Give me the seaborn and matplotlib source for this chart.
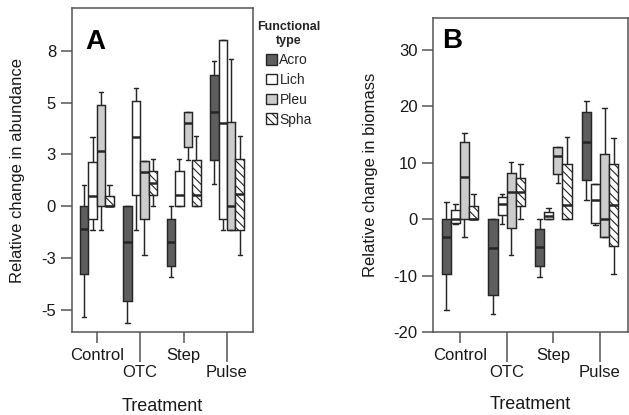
import numpy as np
import pandas as pd
import matplotlib
matplotlib.use('Agg')
import matplotlib.pyplot as plt
from matplotlib.patches import Patch
import seaborn as sns

# five-number summaries, rows = treatment, cols = functional type
treatments = ['Control', 'OTC', 'Step', 'Pulse']
types = ['Acro', 'Lich', 'Pleu', 'Spha']

# A: relative change in abundance
abund_low = [[-5.35, -1.16, -1.16, 0.0],
             [-5.64, -1.16, -2.37, 0.0],
             [-3.44, 0.0, 2.22, 0.0],
             [1.09, -1.16, -1.16, -2.37]]
abund_q1 = [[-3.29, -0.6, 0.0, 0.0],
            [-4.59, 0.53, -0.6, 0.53],
            [-2.88, 0.0, 2.87, 0.0],
            [2.25, -0.6, -1.16, -1.16]]
abund_med = [[-1.1, 0.48, 2.66, 0.0],
             [-1.75, 3.32, 1.66, 1.11],
             [-1.75, 0.53, 4.03, 0.53],
             [4.54, 4.0, 0.0, 0.58]]
abund_q3 = [[0.0, 2.13, 4.9, 0.48],
            [0.0, 5.07, 2.19, 1.69],
            [-0.63, 1.69, 4.56, 2.25],
            [6.36, 8.02, 4.07, 2.27]]
abund_high = [[1.0, 3.32, 5.5, 1.0],
              [0.0, 5.72, 2.19, 2.29],
              [0.0, 2.29, 4.56, 3.4],
              [7.0, 8.02, 7.12, 3.4]]

# B: relative change in biomass
bio_low = [[-16.1, -0.9, -3.2, 0.0],
           [-16.8, -0.9, -6.4, 0.0],
           [-10.2, 0.0, 6.4, 0.0],
           [3.4, -1.1, -3.2, -9.7]]
bio_q1 = [[-9.8, -0.7, 0.0, 0.0],
          [-13.5, 0.65, -1.5, 2.25],
          [-8.3, 0.0, 8.0, 0.0],
          [6.9, -0.7, -3.2, -4.8]]
bio_med = [[-3.2, 0.1, 7.5, 0.0],
           [-5.1, 2.7, 4.8, 4.8],
           [-5.0, 0.5, 11.2, 2.5],
           [13.7, 3.3, 0.0, 2.5]]
bio_q3 = [[0.0, 1.66, 13.7, 2.3],
          [0.0, 3.9, 8.2, 7.3],
          [-1.8, 1.3, 12.8, 9.7],
          [19.0, 6.3, 11.6, 9.7]]
bio_high = [[3.1, 2.6, 15.3, 4.5],
            [0.0, 4.5, 10.2, 9.8],
            [0.0, 1.9, 12.8, 14.5],
            [20.9, 6.3, 19.75, 14.4]]

colors = {'Acro': '#5e5e5e', 'Lich': '#ffffff', 'Pleu': '#cccccc', 'Spha': '#ffffff'}
edge = '#262626'
spine_col = '#555555'


def long_table(low, q1, med, q3, high):
    rows = []
    for i, tr in enumerate(treatments):
        for j, ty in enumerate(types):
            for v in (low[i][j], q1[i][j], med[i][j], q3[i][j], high[i][j]):
                rows.append((tr, ty, v))
    return pd.DataFrame(rows, columns=['Treatment', 'Type', 'Value'])


sns.set_style('ticks')
plt.rcParams['font.family'] = ['Liberation Sans', 'DejaVu Sans']
plt.rcParams['hatch.linewidth'] = 0.8

fig = plt.figure(figsize=(6.29, 4.15), dpi=100)
ax_a = fig.add_axes([0.1145, 0.2, 0.2878, 0.7807])
ax_b = fig.add_axes([0.6889, 0.2, 0.3095, 0.7559])

panels = [
    (ax_a, long_table(abund_low, abund_q1, abund_med, abund_q3, abund_high),
     'Relative change in abundance', (-6.08, 9.575),
     [-5, -2.5, 0, 2.5, 5, 7.5], ['-5', '-3', '0', '3', '5', '8'], 'A', -0.26),
    (ax_b, long_table(bio_low, bio_q1, bio_med, bio_q3, bio_high),
     'Relative change in biomass', (-20, 35.57),
     [-20, -10, 0, 10, 20, 30], ['-20', '-10', '0', '10', '20', '30'], 'B', -0.2825),
]

for ax, df, ylab, ylim, yt, ytl, letter, ylab_x in panels:
    sns.boxplot(data=df, x='Treatment', y='Value', hue='Type', order=treatments,
                hue_order=types, palette=colors, saturation=1, width=0.78, gap=0,
                whis=(0, 100), linecolor=edge, linewidth=1.05, fliersize=0,
                medianprops={'linewidth': 1.8}, legend=False, ax=ax)
    # hatch the Spha boxes (right-most box of each group)
    for p in ax.patches:
        xs = p.get_path().vertices[:, 0]
        cx = (xs.min() + xs.max()) / 2
        if cx - round(cx) > 0.19:
            p.set_hatch('\\\\\\\\')

    ax.set_xlim(-0.57, 3.6)
    ax.set_ylim(*ylim)
    ax.set_yticks(yt)
    ax.set_yticklabels(ytl)
    ax.set_xticks(range(4))
    ax.set_xticklabels(['Control', '\nOTC', 'Step', '\nPulse'])
    ax.tick_params(axis='both', direction='out', length=8, width=1.1,
                   color=spine_col, labelsize=12, pad=3.5, labelcolor='#1a1a1a')
    for k in (1, 3):
        ax.xaxis.get_major_ticks()[k].tick1line.set_markersize(21.5)
    for s in ax.spines.values():
        s.set_color(spine_col)
        s.set_linewidth(1.1)

    ax.set_ylabel(ylab, fontsize=12, color='#1a1a1a')
    ax.yaxis.set_label_coords(ylab_x, 0.5)
    ax.set_xlabel('Treatment', fontsize=13, color='#1a1a1a')
    ax.xaxis.label.set_verticalalignment('top')
    ax.xaxis.set_label_coords(0.5, -0.205)
    ax.text(0.072 if letter == 'A' else 0.043, 0.935 if letter == 'A' else 0.97,
            letter, transform=ax.transAxes, fontsize=20, fontweight='bold',
            va='top', ha='left', color='black')

handles = [Patch(facecolor=colors[t], edgecolor=edge, linewidth=1.0,
                 hatch='\\\\\\\\' if t == 'Spha' else None) for t in types]
leg = fig.legend(handles, types, title='Functional\ntype', loc='upper center',
                 bbox_to_anchor=(289 / 629, 0.965), frameon=False, fontsize=10,
                 title_fontproperties={'weight': 'bold', 'size': 9},
                 handlelength=0.8, handleheight=0.8, handletextpad=0.15,
                 labelspacing=0.42, borderpad=0)
leg.get_title().set_multialignment('center')

fig.savefig('out.png', dpi=100)
